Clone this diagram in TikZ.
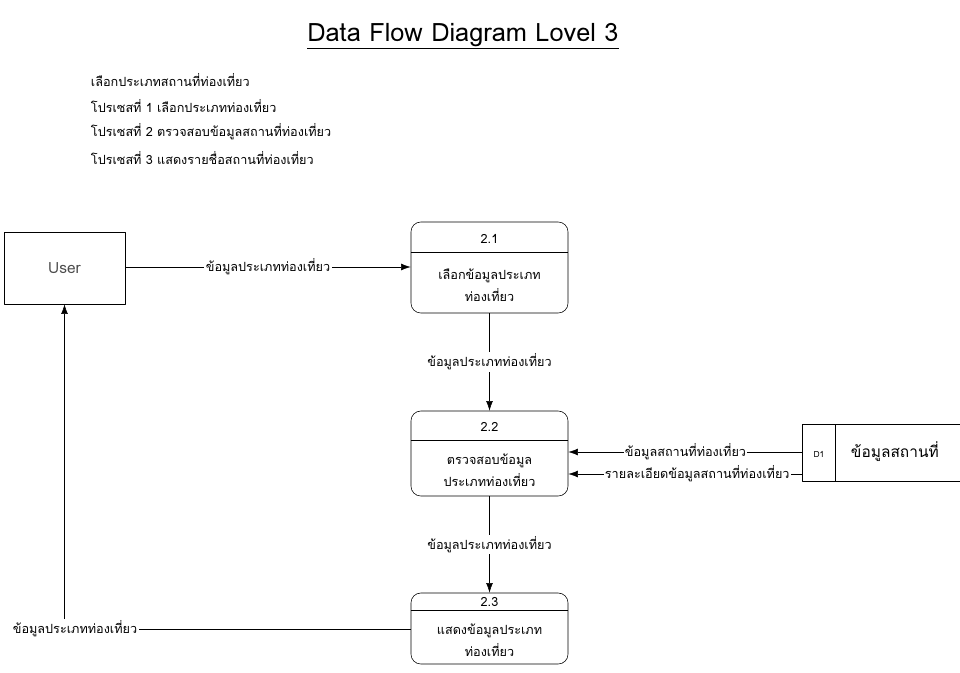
\documentclass[tikz,border=0pt]{standalone}
\usepackage{fontspec}
\setmainfont[Script=Thai]{Loma}
\usetikzlibrary{arrows.meta}
\tikzset{
  proc/.style={draw, rounded corners=7pt, minimum width=3.925cm, inner sep=0pt},
  ent/.style={draw, minimum width=3.025cm, minimum height=1.8cm},
  lbl/.style={fill=white, inner sep=1pt},
}
\begin{document}
\begin{tikzpicture}[x=0.025cm, y=-0.025cm, font=\fontsize{9}{11}\selectfont, line join=round, >={Latex[length=2.4mm,width=1.7mm]}]
\useasboundingbox (0,0) rectangle (960,672);
% title and notes
\node (title) at (463,36) {\fontsize{18}{20}\selectfont\underline{Data Flow Diagram Lovel 3}};
\node[anchor=west] (t1) at (86,80) {เลือกประเภทสถานที่ท่องเที่ยว};
\node[anchor=west] (t2) at (86,106) {โปรเซสที่ 1 เลือกประเภทท่องเที่ยว};
\node[anchor=west] (t3) at (86,132) {โปรเซสที่ 2 ตรวจสอบข้อมูลสถานที่ท่องเที่ยว};
\node[anchor=west] (t4) at (86,158) {โปรเซสที่ 3 แสดงรายชื่อสถานที่ท่องเที่ยว};
% external entity
\node[ent, font=\fontsize{11}{13}\selectfont, text=black!70] (u) at (64.5,268) {User};
% processes
\node[proc, minimum height=2.275cm] (p1) at (489.5,267.5) {};
\draw (p1.west |- 0,252) -- (p1.east |- 0,252);
\node at (489.5,239) {2.1};
\node[align=center] at (489.5,285) {เลือกข้อมูลประเภท\\[3pt]ท่องเที่ยว};
\node[proc, minimum height=2.125cm] (p2) at (489.5,453.5) {};
\draw (p2.west |- 0,440) -- (p2.east |- 0,440);
\node at (489.5,427) {2.2};
\node[align=center] at (489.5,470) {ตรวจสอบข้อมูล\\[3pt]ประเภทท่องเที่ยว};
\node[proc, minimum height=1.775cm] (p3) at (489.5,628.5) {};
\draw (p3.west |- 0,610) -- (p3.east |- 0,610);
\node at (489.5,602) {2.3};
\node[align=center] at (489.5,640) {แสดงข้อมูลประเภท\\[3pt]ท่องเที่ยว};
% data store
\node[minimum width=3.925cm, minimum height=1.4cm] (d1) at (881.5,453) {};
\draw (d1.north east) -- (d1.north west) -- (d1.south west) -- (d1.south east);
\draw (d1.north west) ++(33,0) coordinate (d1a) -- (d1a |- d1.south);
\node at (819,454) {\fontsize{6}{7}\selectfont D1};
\node[anchor=west] at (846,452) {\fontsize{11}{13}\selectfont ข้อมูลสถานที่};
% flows
\draw[->] (u.east |- 0,267) -- node[lbl]{ข้อมูลประเภทท่องเที่ยว} (p1.west |- 0,267);
\draw[->] (p1) -- node[lbl]{ข้อมูลประเภทท่องเที่ยว} (p2);
\draw[->] (p2) -- node[lbl]{ข้อมูลประเภทท่องเที่ยว} (p3);
\draw[->] (d1.west |- 0,452) -- node[lbl]{ข้อมูลสถานที่ท่องเที่ยว} (p2.east |- 0,452);
\draw[->] (d1.west |- 0,474) -- node[lbl, pos=0.45]{รายละเอียดข้อมูลสถานที่ท่องเที่ยว} (p2.east |- 0,474);
\node[lbl] (back) at (75,629) {ข้อมูลประเภทท่องเที่ยว};
\draw (p3.west |- back) -- (back.east);
\draw[->] (back.north -| u.south) -- (u.south);
\end{tikzpicture}
\end{document}
